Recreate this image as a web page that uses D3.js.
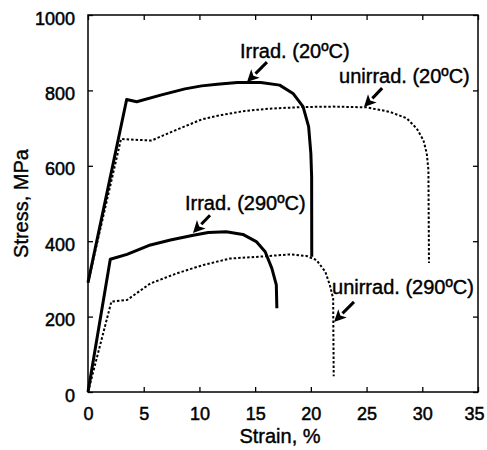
<!DOCTYPE html>
<html>
<head>
<meta charset="utf-8">
<script src="https://cdn.jsdelivr.net/npm/d3@7"></script>
<style>
  html, body { margin: 0; padding: 0; background: #fff; }
  svg { display: block; }
  text { font-family: "Liberation Sans", Arial, Helvetica, sans-serif; fill: #000; }
</style>
</head>
<body>
<svg id="chart" width="487" height="450"></svg>
<script>
// ---- data (strain %, stress MPa) ----
const xTicks = [0, 5, 10, 15, 20, 25, 30, 35];
const yTicks = [0, 200, 400, 600, 800, 1000];

const irrad20Strain = [0, 3.47, 4.37, 6.6, 8.7, 10.2, 11.6, 13.4, 15.5, 17.2, 18.4, 19.3, 19.8, 20.0, 20.07, 20.08];
const irrad20Stress = [290, 776, 770, 788, 804, 812, 816, 821, 821, 814, 792, 757, 704, 633, 571, 359];

const unirrad20Strain = [0, 2.96, 5.7, 7.5, 10.2, 12.0, 14.2, 16.5, 19.4, 22.0, 25.0, 27.1, 28.6, 29.5, 30.1, 30.4, 30.55, 30.6];
const unirrad20Stress = [290, 671, 667, 690, 723, 735, 746, 752, 756, 757, 755, 743, 726, 699, 668, 633, 589, 342];

const irrad290Strain = [0, 2.0, 3.5, 5.6, 7.4, 9.45, 10.8, 12.4, 13.9, 15.1, 15.9, 16.5, 16.9, 16.95];
const irrad290Stress = [0, 352, 365, 390, 403, 416, 423, 425, 418, 399, 372, 328, 284, 222];

const unirrad290Strain = [0, 2.1, 3.5, 5.6, 8.0, 10.35, 12.75, 15.4, 18.1, 19.6, 20.5, 21.3, 21.7, 22.0, 22.05];
const unirrad290Stress = [0, 240, 244, 288, 315, 337, 354, 359, 365, 361, 350, 319, 284, 248, 42];

const labelTexts   = ["Irrad. (20ºC)", "unirrad. (20ºC)", "Irrad. (290ºC)", "unirrad. (290ºC)"];
const labelStrain  = [13.64, 22.53, 8.7, 21.9];
const labelStress  = [886, 820, 483, 260];

const arrowTailStrain = [16.06, 26.4, 10.95, 23.87];
const arrowTailStress = [875, 806, 469, 239];
const arrowHeadStrain = [14.27, 24.77, 9.42, 22.08];
const arrowHeadStress = [822, 756, 422, 186];

// ---- layout ----
const margin = {left: 88, top: 15, right: 9, bottom: 58};
const W = 487, H = 450;
const svg = d3.select("#chart");

const x = d3.scaleLinear().domain([0, 35]).range([margin.left, W - margin.right]);
const y = d3.scaleLinear().domain([0, 1000]).range([H - margin.bottom, margin.top]);

const zip = (a, b) => a.map((v, i) => [v, b[i]]);
const lineLin = d3.line().x(d => x(d[0])).y(d => y(d[1]));

// frame
svg.append("rect")
  .attr("x", x(0)).attr("y", y(1000))
  .attr("width", x(35) - x(0)).attr("height", y(0) - y(1000))
  .attr("fill", "none").attr("stroke", "#000").attr("stroke-width", 1.5);

// axes with inward ticks
const tickLen = 5;
const gx = svg.append("g").attr("transform", `translate(0,${y(0)})`)
  .call(d3.axisBottom(x).tickValues(xTicks).tickSize(-tickLen).tickPadding(tickLen + 10).tickFormat(d3.format("d")));
const gxt = svg.append("g").attr("transform", `translate(0,${y(1000)})`)
  .call(d3.axisTop(x).tickValues(xTicks).tickSize(-tickLen).tickFormat(""));
const gy = svg.append("g").attr("transform", `translate(${x(0)},0)`)
  .call(d3.axisLeft(y).tickValues(yTicks).tickSize(-tickLen).tickPadding(tickLen + 8).tickFormat(d3.format("d")));
const gyr = svg.append("g").attr("transform", `translate(${x(35)},0)`)
  .call(d3.axisRight(y).tickValues(yTicks).tickSize(-tickLen).tickFormat(""));

[gx, gxt, gy, gyr].forEach(g => {
  g.select(".domain").remove();
  g.selectAll(".tick line").attr("stroke", "#000").attr("stroke-width", 1.3);
  g.selectAll("text").style("font-size", "18px").style("font-family", "Liberation Sans, Arial, sans-serif")
    .attr("fill", "#000").attr("stroke", "#000").attr("stroke-width", 0.5);
});
gy.selectAll("text").attr("dy", "0.5em");
// keep the last x label inside the picture
gx.selectAll(".tick").filter(d => d === 35).select("text").attr("dx", -4);

// curves
function drawSeries(sx, sy, solid) {
  svg.append("path")
    .datum(zip(sx, sy))
    .attr("fill", "none")
    .attr("stroke", "#000")
    .attr("stroke-width", solid ? 3 : 2)
    .attr("stroke-dasharray", solid ? null : "2.5,2")
    .attr("stroke-linejoin", "round")
    .attr("d", lineLin);
}
drawSeries(unirrad20Strain, unirrad20Stress, false);
drawSeries(unirrad290Strain, unirrad290Stress, false);
drawSeries(irrad20Strain, irrad20Stress, true);
drawSeries(irrad290Strain, irrad290Stress, true);

// annotations
labelTexts.forEach((t, i) => {
  svg.append("text")
    .attr("x", x(labelStrain[i])).attr("y", y(labelStress[i]))
    .style("font-size", "20px")
    .attr("stroke", "#000").attr("stroke-width", 0.4)
    .text(t);
});

// arrows
arrowTailStrain.forEach((_, i) => {
  const x1 = x(arrowTailStrain[i]), y1 = y(arrowTailStress[i]);
  const x2 = x(arrowHeadStrain[i]), y2 = y(arrowHeadStress[i]);
  const ang = Math.atan2(y2 - y1, x2 - x1);
  const hl = 12, hw = 6;
  const bx = x2 - hl * Math.cos(ang), by = y2 - hl * Math.sin(ang);
  svg.append("line").attr("x1", x1).attr("y1", y1).attr("x2", bx).attr("y2", by)
    .attr("stroke", "#000").attr("stroke-width", 3);
  const px = -Math.sin(ang) * hw, py = Math.cos(ang) * hw;
  svg.append("path")
    .attr("d", `M${x2},${y2}L${bx + px},${by + py}L${bx + 3 * Math.cos(ang)},${by + 3 * Math.sin(ang)}L${bx - px},${by - py}Z`)
    .attr("fill", "#000");
});

// axis titles
svg.append("text")
  .attr("x", (x(0) + x(35)) / 2 - 3).attr("y", 443)
  .attr("text-anchor", "middle")
  .style("font-size", "20px")
  .attr("stroke", "#000").attr("stroke-width", 0.4)
  .text("Strain, %");
svg.append("text")
  .attr("transform", `translate(28,${(y(0) + y(1000)) / 2}) rotate(-90)`)
  .attr("text-anchor", "middle")
  .style("font-size", "20px")
  .attr("stroke", "#000").attr("stroke-width", 0.4)
  .text("Stress, MPa");
</script>
</body>
</html>
